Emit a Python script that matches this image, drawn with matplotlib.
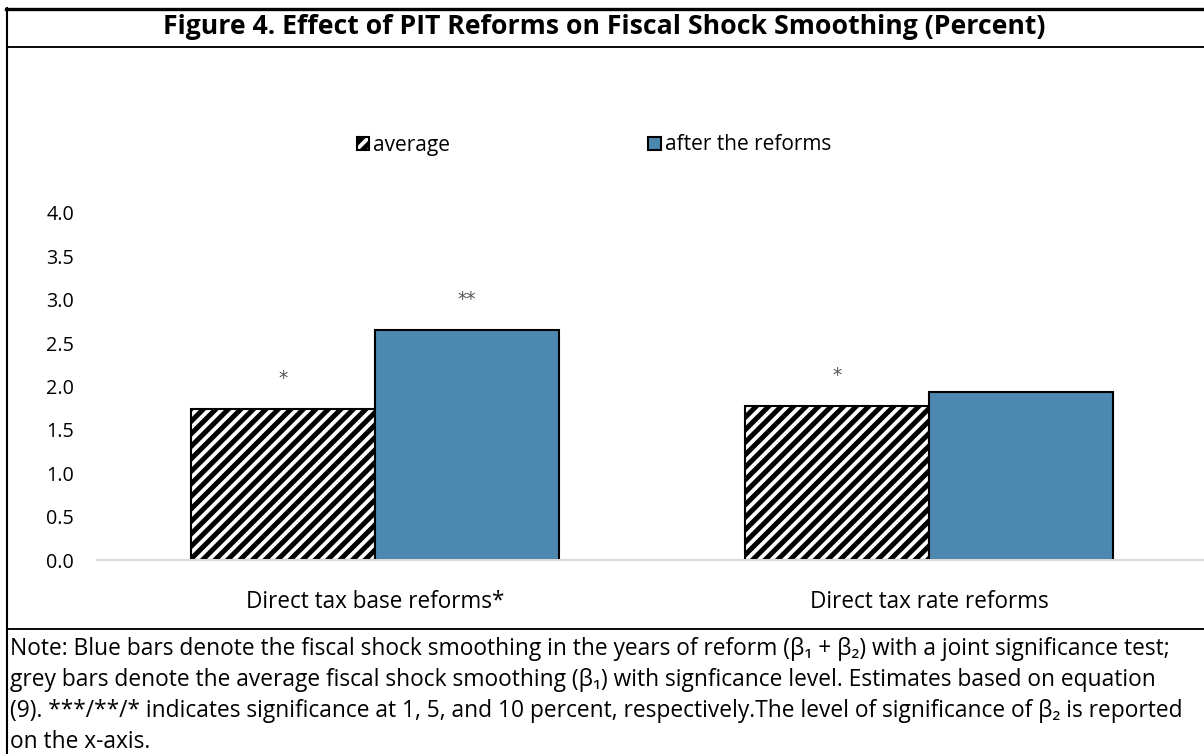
import matplotlib.pyplot as plt
import numpy as np
from matplotlib.lines import Line2D

plt.rcParams["font.family"] = ["Open Sans", "DejaVu Sans"]
plt.rcParams["hatch.linewidth"] = 2.4

# data
categories = ["Direct tax base reforms*", "Direct tax rate reforms"]
average = [1.74, 1.78]
after_reforms = [2.65, 1.94]
average_stars = ["*", "*"]
after_stars = ["**", ""]
y_ticks = [0.0, 0.5, 1.0, 1.5, 2.0, 2.5, 3.0, 3.5, 4.0]

title = "Figure 4. Effect of PIT Reforms on Fiscal Shock Smoothing (Percent)"
note_lines = [
    "Note: Blue bars denote the fiscal shock smoothing in the years of reform (\u03b2\u2081 + \u03b2\u2082) with a joint significance test;",
    "grey bars denote the average fiscal shock smoothing (\u03b2\u2081) with signficance level. Estimates based on equation",
    "(9). ***/**/* indicates significance at 1, 5, and 10 percent, respectively.The level of significance of \u03b2\u2082 is reported",
    "on the x-axis.",
]

W, H, DPI = 1204, 754, 150
fig = plt.figure(figsize=(W / DPI, H / DPI), dpi=DPI, facecolor="white")


def fx(px):
    return px / W


def fy(py):
    return 1 - py / H


# frame lines
fig.add_artist(Line2D([fx(6), 1], [fy(9), fy(9)], color="black", lw=1.6))
fig.add_artist(Line2D([fx(7), fx(7)], [fy(8), 0], color="black", lw=1.0))
fig.add_artist(Line2D([fx(7), 1], [fy(47), fy(47)], color="black", lw=0.9))
fig.add_artist(Line2D([fx(7), 1], [fy(629), fy(629)], color="black", lw=0.9))

fig.text(0.502, fy(27), title, ha="center", va="center", fontsize=12.8,
         fontweight="bold", color="black")

ax = fig.add_axes([fx(97), fy(560), 1 - fx(97), (560 - 213) / H])
x = np.arange(len(categories))
width = 0.332
b1 = ax.bar(x - width / 2, average, width, color="white", edgecolor="black",
            hatch="////", linewidth=1.0, label="average", zorder=2)
b2 = ax.bar(x + width / 2, after_reforms, width, color="#4d88b1",
            edgecolor="black", linewidth=1.0, label="after the reforms", zorder=2)

for i in range(len(categories)):
    ax.text(x[i] - width / 2, average[i] + 0.35, average_stars[i], ha="center",
            va="center", fontsize=9, color="#555555", family="DejaVu Sans")
    ax.text(x[i] + width / 2, after_reforms[i] + 0.35, after_stars[i], ha="center",
            va="center", fontsize=9, color="#555555", family="DejaVu Sans")

ax.set_xlim(-0.502, 1.496)
ax.set_ylim(0, 4.0)
ax.set_yticks(y_ticks)
ax.set_yticklabels([f"{v:.1f}" for v in y_ticks], fontsize=9.5)
ax.set_xticks(x)
ax.set_xticklabels(categories, fontsize=10.8)
ax.tick_params(axis="y", length=0, pad=11)
ax.tick_params(axis="x", length=0, pad=14.5)
for s in ["top", "right", "left"]:
    ax.spines[s].set_visible(False)
ax.spines["bottom"].set_color("#d9d9d9")
ax.spines["bottom"].set_linewidth(1.0)
ax.spines["bottom"].set_zorder(3)

fig.legend(handles=[b1, b2], loc="center", bbox_to_anchor=(fx(594), fy(145)),
           ncol=2, frameon=False, fontsize=10, handlelength=0.6,
           handleheight=0.6, handletextpad=0.2, columnspacing=9.5)

for i, line in enumerate(note_lines):
    fig.text(fx(10), fy(649 + i * 31.0), line, ha="left", va="center",
             fontsize=10.9, color="black")

fig.savefig("out.png", dpi=DPI, facecolor="white")
